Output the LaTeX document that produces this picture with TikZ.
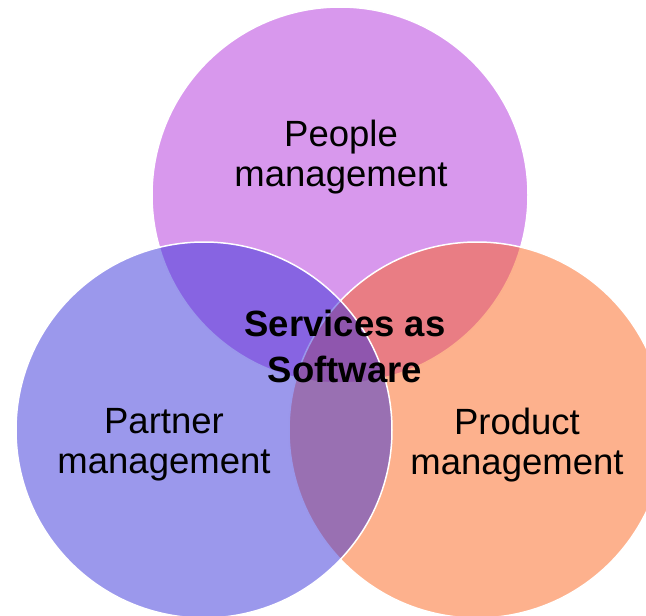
\documentclass[tikz,border=0pt]{standalone}
\usepackage{fontspec}
\setmainfont{Liberation Sans}
\definecolor{peoplecol}{RGB}{177,49,219}
\definecolor{productcol}{RGB}{251,99,27}
\definecolor{partnercol}{RGB}{55,49,217}
\begin{document}
\begin{tikzpicture}[x=1pt,y=-1pt,font=\fontsize{36.5}{40}\selectfont,
    venn/.style={circle,draw=white,line width=1.5pt,fill opacity=0.5,minimum size=376pt,inner sep=0pt}]
    \useasboundingbox (0,0) rectangle (646,616);
    \foreach \c/\n/\x/\y in {peoplecol/people/340/195, productcol/product/477/430, partnercol/partner/204/430} {
        \node[venn,fill=\c] (\n) at (\x,\y) {} ;
    }
    \foreach \n/\t/\x/\y in {people/{People\\management}/341/157, partner/{Partner\\management}/164/445, product/{Product\\management}/517/445} {
        \node[align=center] (\n text) at (\x,\y) {\t} ;
    }
    \node[align=center,font=\fontsize{36.5}{46}\selectfont\bfseries] (core) at (345,346) {Services as\\Software} ;
\end{tikzpicture}
\end{document}
